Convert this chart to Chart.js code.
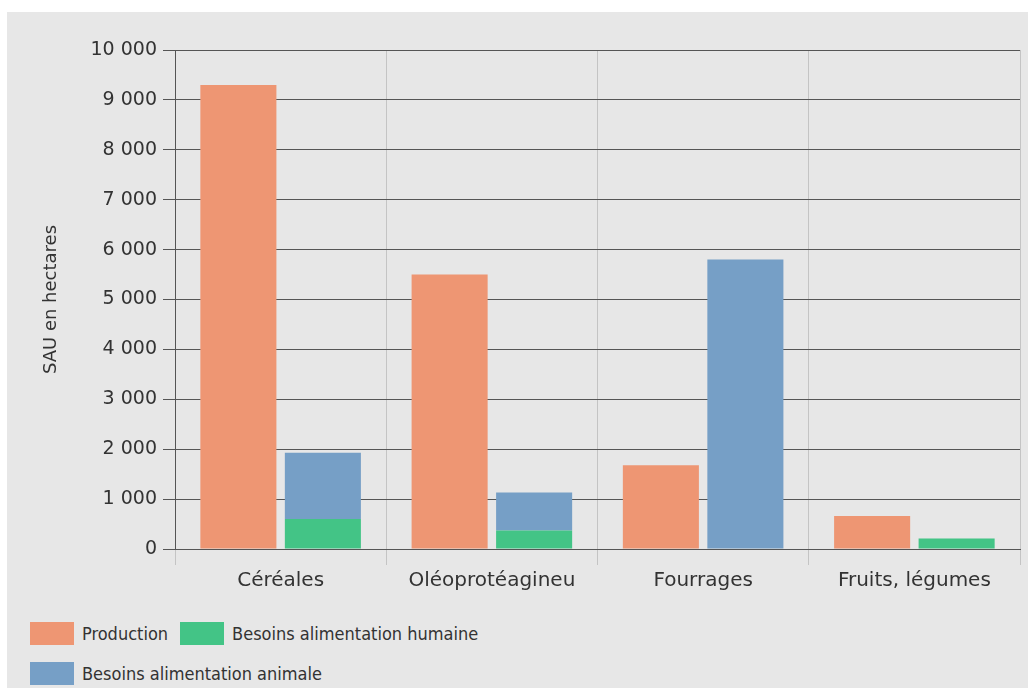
<!DOCTYPE html>
<html>
<head>
<meta charset="utf-8">
<script src="https://cdn.jsdelivr.net/npm/chart.js@4/dist/chart.umd.min.js"></script>
<style>
  body { margin: 0; background: #fff; }
  .box {
    position: absolute; left: 7px; top: 12px;
    width: 1021px; height: 676px;
    background: #e7e7e7;
  }
  #chart { position: absolute; left: 0; top: 0; }
  .legend {
    position: absolute; left: 23px; top: 601px;
    width: 560px;
    display: flex; flex-wrap: wrap;
    font-family: "DejaVu Sans Condensed", "Liberation Sans Narrow", sans-serif;
    font-stretch: condensed;
    font-size: 18px; color: #333;
  }
  .legend .item { display: flex; align-items: center; height: 40px; margin-right: 12px; }
  .legend .sw { width: 44px; height: 23px; margin-right: 8px; }
</style>
</head>
<body>
<div class="box">
  <canvas id="chart" width="1021" height="600"></canvas>
  <div class="legend" id="legend"></div>
</div>
<script>
const categories = ["Céréales", "Oléoprotéagineu", "Fourrages", "Fruits, légumes"]
const production = [9300, 5500, 1680, 660]
const besoinsHumaine = [600, 370, 0, 210]
const besoinsAnimale = [1330, 760, 5800, 0]
const yTicks = [0, 1000, 2000, 3000, 4000, 5000, 6000, 7000, 8000, 9000, 10000]

const colProd = "#ee9673"
const colHum = "#43c486"
const colAni = "#769fc6"

// "10 000" style
function fmt(v) {
    return String(v).replace(/\B(?=(\d{3})+(?!\d))/g, " ")
}

const chart = new Chart(document.getElementById("chart"), {
    type: "bar",
    data: {
        labels: categories,
        datasets: [
            { label: "Production", data: production, backgroundColor: colProd, stack: "prod" },
            { label: "Besoins alimentation humaine", data: besoinsHumaine, backgroundColor: colHum, stack: "besoins" },
            { label: "Besoins alimentation animale", data: besoinsAnimale, backgroundColor: colAni, stack: "besoins" }
        ]
    },
    options: {
        responsive: false,
        animation: false,
        categoryPercentage: 0.8,
        barPercentage: 0.9,
        layout: { padding: { left: 8, top: 38, right: 8, bottom: 13 } },
        plugins: {
            legend: { display: false },
            tooltip: { enabled: false }
        },
        scales: {
            x: {
                stacked: true,
                grid: { color: "#c4c4c4", lineWidth: 1, tickLength: 16, offset: true },
                border: { color: "#555" },
                ticks: { color: "#333", font: { family: "DejaVu Sans", size: 20 }, padding: 4 },
                afterFit: s => { s.height = 50 }
            },
            y: {
                stacked: true,
                min: 0,
                max: 10000,
                afterBuildTicks: s => { s.ticks = yTicks.map(v => ({ value: v })) },
                grid: { color: "#555", lineWidth: 1, tickLength: 12 },
                border: { color: "#555" },
                ticks: {
                    color: "#333",
                    font: { family: "DejaVu Sans", size: 19 },
                    padding: 6,
                    callback: v => fmt(v)
                },
                title: {
                    display: true,
                    text: "SAU en hectares",
                    color: "#333",
                    font: { family: "DejaVu Sans", size: 18 },
                    padding: { top: 26, bottom: 0 }
                },
                afterFit: s => { s.width = 160 }
            }
        }
    }
})

// legend on two rows, built from the datasets
const leg = document.getElementById("legend")
chart.data.datasets.forEach(ds => {
    const item = document.createElement("div")
    item.className = "item"
    const sw = document.createElement("span")
    sw.className = "sw"
    sw.style.background = ds.backgroundColor
    const txt = document.createElement("span")
    txt.textContent = ds.label
    item.append(sw, txt)
    leg.append(item)
})
</script>
</body>
</html>
